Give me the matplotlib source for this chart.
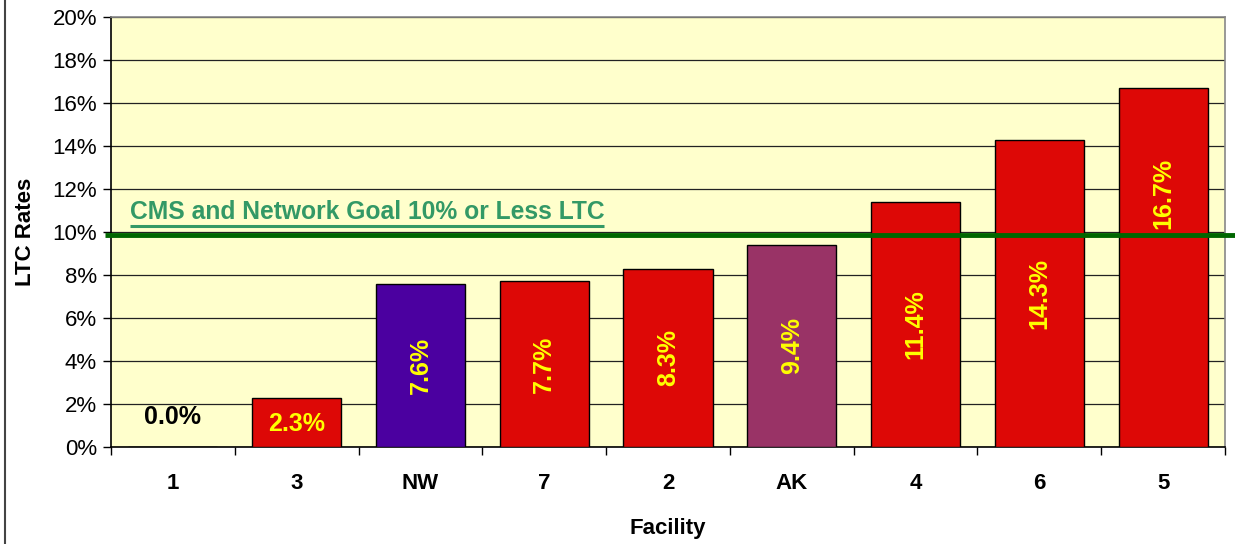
import matplotlib
matplotlib.use("Agg")
import matplotlib.pyplot as plt
from matplotlib.lines import Line2D
import numpy as np

plt.rcParams['font.family'] = ['Liberation Sans', 'DejaVu Sans']

categories = ["1", "3", "NW", "7", "2", "AK", "4", "6", "5"]
values = [0.0, 2.3, 7.6, 7.7, 8.3, 9.4, 11.4, 14.3, 16.7]
colors = ["#DD0806", "#DD0806", "#4B00A0", "#DD0806", "#DD0806", "#993366",
          "#DD0806", "#DD0806", "#DD0806"]
goal = 9.85
goal_text = "CMS and Network Goal 10% or Less LTC"
y_ticks = [0, 2, 4, 6, 8, 10, 12, 14, 16, 18, 20]

W, H = 1235, 544
fig = plt.figure(figsize=(W / 100, H / 100), dpi=100)
ax = fig.add_axes([111 / W, 1 - 447 / H, (1225 - 111) / W, (447 - 17) / H])
ax.set_facecolor("#FFFFCC")

x = np.arange(len(categories))
ax.bar(x, values, width=0.72, color=colors, edgecolor="black", linewidth=1.0, zorder=3)
ax.set_xlim(-0.5, len(categories) - 0.5)
ax.set_ylim(0, 20)
ax.set_yticks(y_ticks)
ax.set_yticklabels([f"{t}%" for t in y_ticks], fontsize=16)
ax.yaxis.grid(True, color="#222222", linewidth=0.9, zorder=1)
ax.set_axisbelow(True)
ax.tick_params(axis="y", direction="out", length=6, width=1, pad=4)

ax.set_xticks(np.arange(len(categories) + 1) - 0.5)
ax.set_xticklabels([])
ax.set_xticks(x, minor=True)
ax.set_xticklabels(categories, minor=True, fontsize=16, fontweight="bold")
ax.tick_params(axis="x", which="major", direction="out", length=6, width=1)
ax.tick_params(axis="x", which="minor", length=0, pad=19)

for s in ["left", "bottom"]:
    ax.spines[s].set_color("black")
    ax.spines[s].set_linewidth(1.2)
for s in ["top", "right"]:
    ax.spines[s].set_color("#888888")
    ax.spines[s].set_linewidth(1.2)

ax.set_ylabel("LTC Rates", fontsize=16, fontweight="bold", labelpad=12)
ax.set_xlabel("Facility", fontsize=16, fontweight="bold", labelpad=17)

for i, (xi, v) in enumerate(zip(x, values)):
    lab = f"{v:.1f}%"
    if v < 1:
        ax.text(xi, 1.4, lab, ha="center", va="center", fontsize=18,
                fontweight="bold", color="black", zorder=5)
    elif v < 5:
        ax.text(xi, 1.07, lab, ha="center", va="center", fontsize=18,
                fontweight="bold", color="#FFFF00", zorder=5)
    else:
        # the tallest bar's label sits above the goal line
        ypos = v / 2 if i < len(values) - 1 else v * 0.705
        ax.text(xi, ypos, lab, ha="center", va="center", fontsize=18,
                fontweight="bold", color="#FFFF00", rotation=90, zorder=5)

# goal line extends beyond the axes to the figure edge
ax.plot([-0.55, 9.2], [goal, goal], color="#006600", linewidth=3.5,
        clip_on=False, zorder=6, solid_capstyle="butt")
t = ax.text(-0.35, goal + 0.5, goal_text, ha="left", va="bottom", fontsize=17.7,
            fontweight="bold", color="#339966", zorder=6)
fig.canvas.draw()
bb = t.get_window_extent().transformed(ax.transData.inverted())
ax.plot([bb.x0, bb.x1], [bb.y0 - 0.05, bb.y0 - 0.05], color="#339966",
        linewidth=2.2, zorder=6, solid_capstyle="butt")

fig.add_artist(Line2D([5 / W, 5 / W], [0, 1], transform=fig.transFigure,
                      color="#444444", linewidth=1.5))

fig.savefig("out.png", dpi=100)
